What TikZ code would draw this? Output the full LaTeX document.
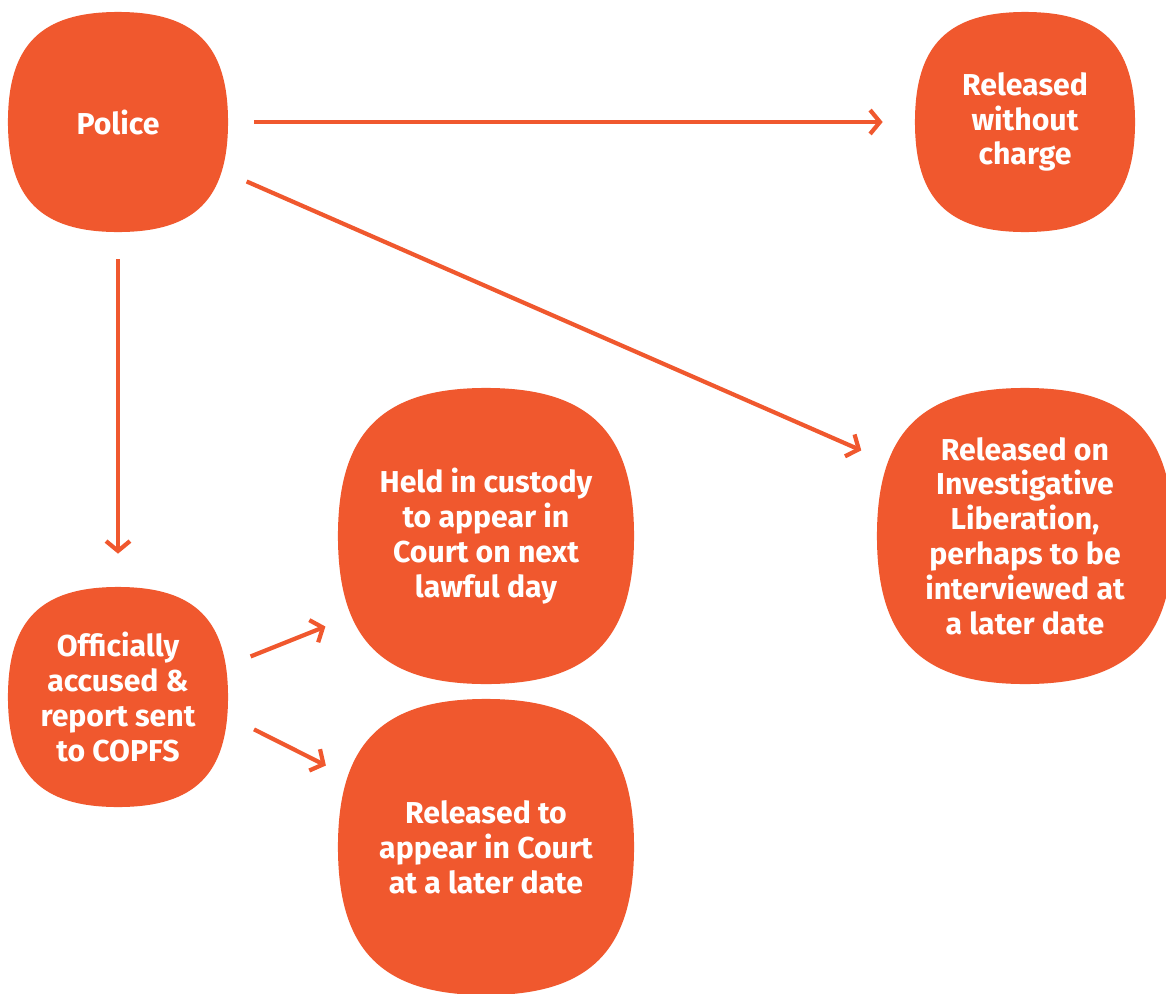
\documentclass[tikz,border=0pt]{standalone}
\usepackage{fontspec}
\setmainfont{Fira Sans}
\usetikzlibrary{positioning,calc,arrows.meta}
\definecolor{lawOrange}{RGB}{240,88,46}
% squircle outline round a node
\newcommand\blobpath[1]{%
  (#1.north) .. controls ($(#1.north)!.7!(#1.north east)$) and ($(#1.east)!.7!(#1.north east)$) .. (#1.east)
  .. controls ($(#1.east)!.7!(#1.south east)$) and ($(#1.south)!.7!(#1.south east)$) .. (#1.south)
  .. controls ($(#1.south)!.7!(#1.south west)$) and ($(#1.west)!.7!(#1.south west)$) .. (#1.west)
  .. controls ($(#1.west)!.7!(#1.north west)$) and ($(#1.north)!.7!(#1.north west)$) .. (#1.north) -- cycle}

\begin{document}
\begin{tikzpicture}[x=0.025cm, y=-0.025cm]
\tikzset{
    blob/.style={fill=white, text=white, align=center, inner sep=0pt,
        font=\bfseries\fontsize{21.5}{24.8}\selectfont,
        path picture={\fill[lawOrange] \blobpath{path picture bounding box};}},
    smallblob/.style={blob, minimum width=5.5cm, minimum height=5.5cm},
    bigblob/.style={blob, minimum width=7.4cm, minimum height=7.4cm},
    arr/.style={draw=lawOrange, line width=3pt, -{Straight Barb[length=7pt, width=17pt]}}
}
\useasboundingbox (0,0) rectangle (1166,994);

% Knoten
\node[smallblob] (police) at (118,122) {Police};
\node[smallblob] (nocharge) at (1025,122) {Released\\without\\charge};
\node[smallblob] (accused) at (118,697) {Officially\\accused \&\\report sent\\to COPFS};
\node[bigblob] (custody) at (486,536) {Held in custody\\to appear in\\Court on next\\lawful day};
\node[bigblob] (release) at (486,847) {Released to\\appear in Court\\at a later date};
\node[bigblob] (invlib) at (1025,536) {Released on\\Investigative\\Liberation,\\perhaps to be\\interviewed at\\a later date};

% Verbindungen
\draw[arr, shorten <=0.65cm, shorten >=0.8cm] (police.east) -- (nocharge.west);
\draw[arr, shorten <=0.5cm, shorten >=0.42cm] (police.-25) -- (invlib.152);
\draw[arr, shorten <=0.675cm, shorten >=0.825cm] (police.south) -- (accused.north);
\draw[arr, shorten <=0.6cm, shorten >=0.33cm] (accused.16) -- (custody.210);
\draw[arr, shorten <=0.72cm, shorten >=0.33cm] (accused.-10) -- (release.153);

\end{tikzpicture}
\end{document}
